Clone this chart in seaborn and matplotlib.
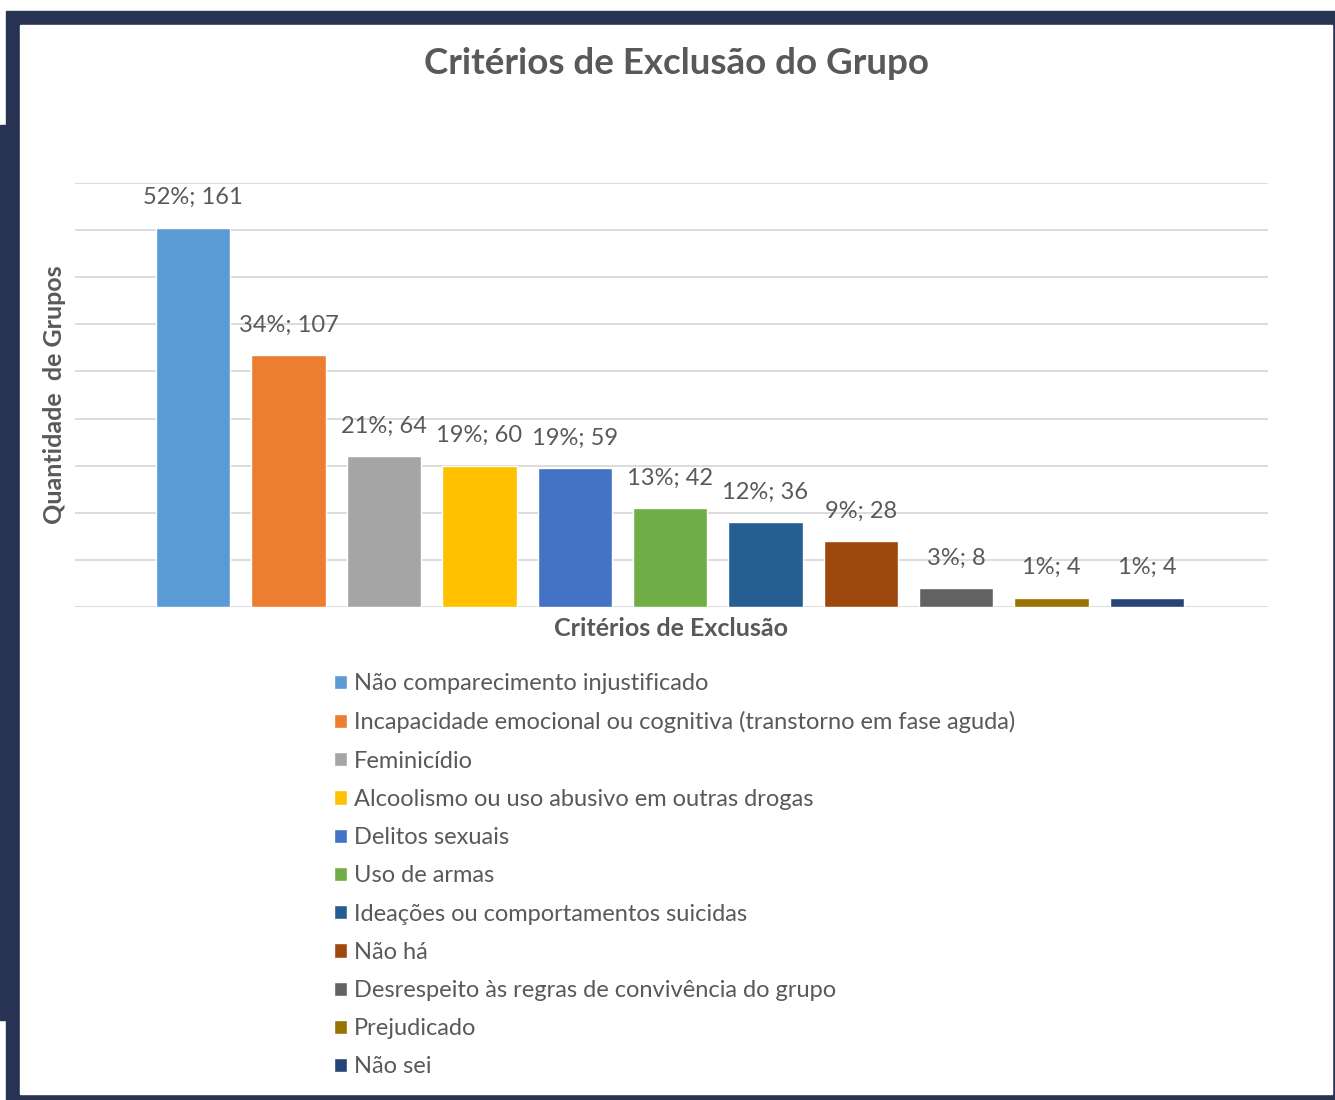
import pandas as pd
import seaborn as sns
import matplotlib.pyplot as plt
from matplotlib.patches import Rectangle

# chart data
criterios = [
    "Não comparecimento injustificado",
    "Incapacidade emocional ou cognitiva (transtorno em fase aguda)",
    "Feminicídio",
    "Alcoolismo ou uso abusivo em outras drogas",
    "Delitos sexuais",
    "Uso de armas",
    "Ideações ou comportamentos suicidas",
    "Não há",
    "Desrespeito às regras de convivência do grupo",
    "Prejudicado",
    "Não sei",
]
grupos = [161, 107, 64, 60, 59, 42, 36, 28, 8, 4, 4]
percentuais = [52, 34, 21, 19, 19, 13, 12, 9, 3, 1, 1]
cores = ["#5B9BD5", "#ED7D31", "#A5A5A5", "#FFC000", "#4472C4", "#70AD47",
         "#255E91", "#9E480E", "#636363", "#997300", "#264478"]

W, H = 1335, 1100
TXT = "#595959"
NAVY = "#283253"

sns.set_theme(style="white")
plt.rcParams["font.family"] = ["Lato", "DejaVu Sans"]

fig = plt.figure(figsize=(W / 100, H / 100), dpi=100, facecolor="white")


def px_rect(x0, y0, x1, y1, color, z):
    # rectangle given in pixel coords (origin top-left)
    fig.patches.append(Rectangle((x0 / W, 1 - y1 / H), (x1 - x0) / W, (y1 - y0) / H,
                                 transform=fig.transFigure, color=color, zorder=z))


# dark frame around the white panel
px_rect(6, 11, W, H, NAVY, -10)
px_rect(0, 125, 20, 1020, NAVY, -10)
px_rect(20, 25, 1332, 1094, "white", -9)

ax = fig.add_axes([75 / W, 1 - 607 / H, (1268 - 75) / W, (607 - 183) / H])
ax.set_facecolor("none")

df = pd.DataFrame({"criterio": criterios, "grupos": grupos})
sns.barplot(data=df, x="criterio", y="grupos", hue="criterio", palette=cores,
            width=0.78, saturation=1, legend=True, ax=ax)

ax.set_ylim(0, 180)
ax.set_xlim(-1.24, 11.27)
ax.set_yticks(range(0, 181, 20))
ax.set_yticklabels([])
ax.set_xticks([])
ax.yaxis.grid(True, color="#D9D9D9", linewidth=1.3)
ax.set_axisbelow(True)
ax.tick_params(length=0)
sns.despine(ax=ax, left=True, bottom=True)

for i, v in enumerate(grupos):
    ax.annotate(f"{percentuais[i]}%; {v}", (i, v), xytext=(0, 14),
                textcoords="offset points", ha="center", va="bottom",
                fontsize=17, color=TXT)

ax.set_ylabel("Quantidade  de Grupos", fontsize=18, fontweight="bold", color=TXT, labelpad=3)
ax.set_xlabel("Critérios de Exclusão", fontsize=18, fontweight="bold", color=TXT, labelpad=7)

fig.text(676 / W, 1 - 63 / H, "Critérios de Exclusão do Grupo", ha="center", va="center",
         fontsize=26.5, fontweight="bold", color=TXT)

handles, labels = ax.get_legend_handles_labels()
ax.get_legend().remove()
fig.legend(handles, labels, loc="upper left", bbox_to_anchor=(334 / W, 1 - 673 / H),
           frameon=False, fontsize=17, labelcolor=TXT, handlelength=0.55, handleheight=0.55,
           handletextpad=0.3, labelspacing=0.73, borderpad=0, borderaxespad=0)

fig.savefig("out.png", dpi=100, facecolor="white")
